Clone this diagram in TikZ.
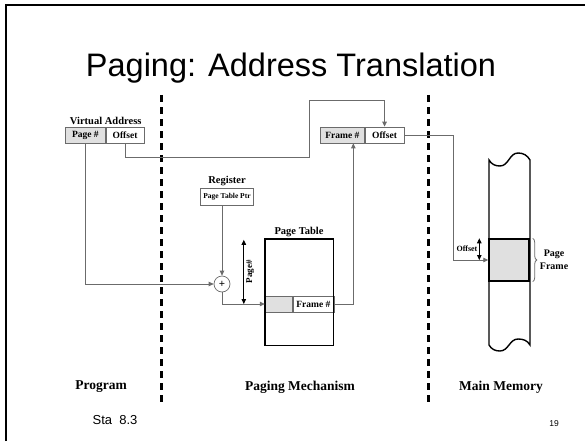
\documentclass[tikz,border=0pt]{standalone}
\usepackage{fontspec}
\setmainfont{Liberation Serif}
\newfontfamily\slidefont{Liberation Sans}
\usetikzlibrary{arrows.meta,decorations.pathreplacing}
\definecolor{shade}{gray}{0.88}
\definecolor{wire}{gray}{0.42}

\begin{document}
\begin{tikzpicture}
  [x=1pt,y=-1pt,
   >={Triangle[length=5pt,width=4.5pt]},
   cell/.style={draw=wire,line width=0.7pt,minimum height=16pt,inner sep=0pt,
     font=\bfseries\fontsize{9.5}{10}\selectfont},
   heading/.style={font=\bfseries\fontsize{10.5}{12}\selectfont,inner sep=1pt},
   part/.style={font=\bfseries\fontsize{13.5}{15}\selectfont},
   link/.style={draw=wire,line width=0.8pt},
   dim/.style={<->,line width=0.8pt},
   divider/.style={line width=3pt,dash pattern=on 7pt off 5pt},
   wall/.style={line width=1.4pt}]
\useasboundingbox (0,0) rectangle (585,441);
\draw [line width=2.5pt] (6,441) -- (6,5) -- (585,5);
\path (291,77) node [anchor=base,font=\slidefont\fontsize{32.5}{40}\selectfont]
    (title) {Paging: Address Translation};

\draw [divider] (161,95) -- (161,405);
\draw [divider] (428,95) -- (428,405);

\path
    (65,135) node [cell,anchor=west,fill=shade,minimum width=40pt] (page) {Page \#}
    (page.east) node [cell,anchor=west,minimum width=38pt] (offset) {Offset};
\path
    (page.north east) node [above=1pt,heading] {Virtual Address};

\path
    (227,197) node [cell,minimum width=53pt,minimum height=17pt,
      font=\bfseries\fontsize{7.5}{9}\selectfont] (ptr) {Page Table Ptr}
    (ptr.north) node [above=1pt,heading] {Register};
\path
    (222,284) node [draw=wire,line width=0.7pt,circle,minimum size=16pt,inner sep=0pt,
      font=\bfseries\fontsize{11}{12}\selectfont] (plus) {+};

\path
    (299,292) node [minimum width=68pt,minimum height=106pt] (table) {}
    (table.north) node [above=1pt,heading] {Page Table};
\path
    [minimum height=10pt,font=\bfseries\fontsize{8}{9}\selectfont]
    (table.west |- 0,304) node [cell,anchor=west,fill=shade,minimum width=27pt] (entry) {}
    (entry.east) node [cell,anchor=west,minimum width=41pt] (frnum) {Frame \#};
\draw [wall] (table.south west) rectangle (table.north east);

\path
    (320,135) node [cell,anchor=west,fill=shade,minimum width=44pt] (frame) {Frame \#}
    (frame.east) node [cell,anchor=west,minimum width=39pt] (real) {Offset};

\path
    (509,260) node [draw,wall,fill=shade,minimum width=40pt,minimum height=42pt] (pf) {};
\draw [wall]
    (489,345) -- (489,160)
    to [out=-60,in=180] (500,166) to [out=0,in=180] (518,153)
    to [out=0,in=120] (530,160) -- (530,345)
    to [out=120,in=0] (518,339) to [out=180,in=0] (500,351)
    to [out=180,in=-60] cycle;

\path
    (309,157) coordinate (low)
    (309,100) coordinate (high)
    (453,260) coordinate (turn);
\draw [link,->] (page.south) |- (plus.west);
\draw [link,->] (ptr.south -| plus) -- (plus.north);
\draw [link,->] (plus.south) |- (entry.west);
\draw [link,->] (frnum.east) -| ([xshift=11pt]frame.south);
\draw [link,->] (offset.south) |- (low) -- (high) -| (real.north);
\draw [link,->] (real.east) -| (turn) -- (pf.west);

\path
    (table.north west) +(-21,1) coordinate (ptop)
    (pf.north west) +(-9,0) coordinate (otop);
\draw [dim] (ptop) -- (ptop |- entry.west)
    node [midway,anchor=north,rotate=90,inner sep=2pt,
      font=\bfseries\fontsize{9}{10}\selectfont] {Page\#};
\draw [dim] (otop) -- (otop |- pf.west)
    node [midway,left,inner sep=1.5pt,font=\bfseries\fontsize{8}{9}\selectfont] {Offset};
\draw [link,decorate,decoration={brace,amplitude=4pt}]
    ([xshift=3pt]pf.north east) -- ([xshift=3pt]pf.south east);
\path
    (pf.east) node [right=9pt,align=center,heading,
      font=\bfseries\fontsize{10}{13}\selectfont] {Page\\Frame};

\path
    (101,387) node [part] {Program}
    (300,387) node [part] {Paging Mechanism}
    (501,387) node [part] {Main Memory};
\path
    (115,420) node [font=\slidefont\fontsize{13}{15}\selectfont] (source) {Sta\ \ 8.3}
    (554,424) node [font=\slidefont\fontsize{8.5}{10}\selectfont] (pageno) {19};
\end{tikzpicture}
\end{document}
